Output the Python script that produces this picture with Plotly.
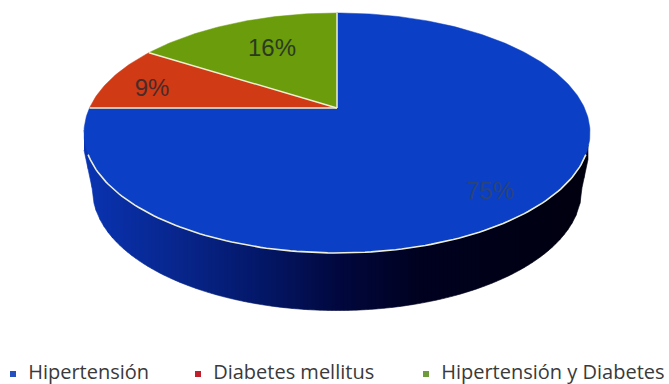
import numpy as np
import plotly.graph_objects as go

categories = ["Hipertensión", "Diabetes mellitus", "Hipertensión y Diabetes"]
values = [75, 9, 16]
labels = ["75%", "9%", "16%"]
face_colors = ["#0A3FC6", "#D03A14", "#6A9C0C"]
legend_colors = ["#2450C0", "#C0202C", "#6E9C3C"]
label_colors = ["#2A4478", "#4A2A2A", "#2A3A20"]
label_pos = [(490, 193), (152, 90), (272, 50)]
legend_pos = [(13, 374), (198, 374), (426, 374)]

# projection of the tilted pie
CX, CY = 337.0, 108.0
A, B, K = 247.5, 114.8, 0.208
DEPTH_CY, DEPTH_RX, DEPTH_RY = 190.0, 244.5, 120.5
TOP_CY, TOP_RX, TOP_RY = 133.0, 253.0, 120.0


def project(theta_deg):
    t = np.radians(theta_deg)
    u, v = np.sin(t), np.cos(t)
    w = 1 + K * v
    return CX + A * u / w, CY - B * v / w


fig = go.Figure()


def side_color(x):
    stops_x = [85, 180, 260, 340, 420, 600]
    r = np.interp(x, stops_x, [10, 8, 4, 2, 0, 0])
    g = np.interp(x, stops_x, [52, 38, 24, 8, 2, 0])
    b = np.interp(x, stops_x, [178, 140, 105, 62, 32, 14])
    return f"rgb({int(r)},{int(g)},{int(b)})"


# side wall
edges = np.arange(84, 592, 4.0)
for x0, x1 in zip(edges[:-1], edges[1:]):
    xs = np.linspace(x0, x1, 3)
    dx = xs - CX
    top = TOP_CY + TOP_RY * np.sqrt(np.clip(1 - (dx / TOP_RX) ** 2, 0, 1))
    inside = np.clip(1 - (dx / DEPTH_RX) ** 2, 0, 1)
    bot = DEPTH_CY + DEPTH_RY * np.sqrt(inside)
    out = np.abs(dx) > DEPTH_RX
    bot[out] = np.interp(np.abs(dx[out]), [DEPTH_RX, TOP_RX], [DEPTH_CY, 150])
    c = side_color((x0 + x1) / 2)
    fig.add_trace(go.Scatter(
        x=list(xs) + list(xs[::-1]), y=list(top - 3) + list(bot[::-1]),
        mode="lines", fill="toself", fillcolor=c, line=dict(color=c, width=0.6),
        hoverinfo="skip", showlegend=False))

# top face
start = 0.0
bounds = []
for val, col in zip(values, face_colors):
    end = start + val * 3.6
    thetas = np.linspace(start, end, max(int(val * 4), 6))
    px, py = project(thetas)
    fig.add_trace(go.Scatter(
        x=[CX] + list(px) + [CX], y=[CY] + list(py) + [CY],
        mode="lines", fill="toself", fillcolor=col, line=dict(color=col, width=0.5),
        hoverinfo="skip", showlegend=False))
    bounds.append(start)
    start = end

# separators and front rim
for th in bounds:
    px, py = project(th)
    fig.add_trace(go.Scatter(x=[CX, px], y=[CY, py], mode="lines",
                             line=dict(color="#EFEFD2", width=1.5),
                             hoverinfo="skip", showlegend=False))
rx, ry = project(np.linspace(112, 248, 120))
fig.add_trace(go.Scatter(x=rx, y=ry, mode="lines",
                         line=dict(color="#EFEFD8", width=1.6),
                         hoverinfo="skip", showlegend=False))

# percent labels
fig.add_trace(go.Scatter(
    x=[p[0] for p in label_pos], y=[p[1] for p in label_pos],
    mode="text", text=labels,
    textfont=dict(family="Liberation Sans", size=24, color=label_colors),
    hoverinfo="skip", showlegend=False))

# legend entries
for name, col, pos in zip(categories, legend_colors, legend_pos):
    fig.add_trace(go.Scatter(
        x=[pos[0]], y=[pos[1]], mode="markers+text", name=name,
        text=["  " + name], textposition="middle right",
        textfont=dict(family="Open Sans", size=20, color="#3A3A3A"),
        marker=dict(symbol="square", size=6, color=col),
        showlegend=False, hoverinfo="skip", cliponaxis=False))

fig.update_layout(
    width=669, height=384, margin=dict(l=0, r=0, t=0, b=0),
    paper_bgcolor="white", plot_bgcolor="white",
    xaxis=dict(range=[0, 669], visible=False, fixedrange=True),
    yaxis=dict(range=[384, 0], visible=False, fixedrange=True),
)
fig.write_html("out.html", config=dict(displayModeBar=False),
               post_script="document.body.style.margin='0';document.body.style.overflow='hidden';")
